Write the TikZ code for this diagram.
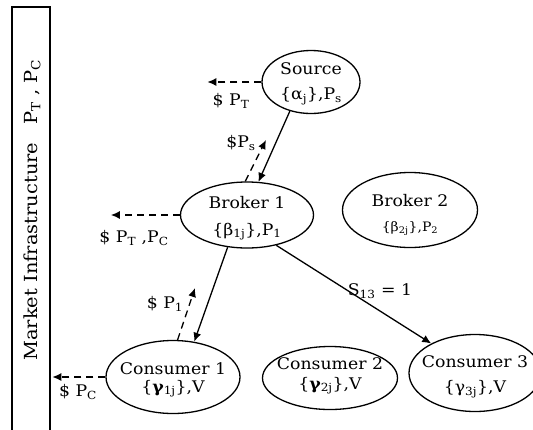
\documentclass[tikz,border=0pt]{standalone}
\usepackage{fontspec}
\setmainfont[FakeStretch=1.08]{DejaVu Serif}
\usetikzlibrary{shapes.geometric,arrows.meta}

\begin{document}
\begin{tikzpicture}[x=1pt,y=-1pt,
  agent/.style={draw,ellipse,line width=1.3pt,inner sep=0pt},
  agenttext/.style={align=center,font=\fontsize{16}{19}\selectfont,inner sep=0pt},
  flow/.style={line width=1.3pt,-{Latex[length=9pt,width=8pt]}},
  pay/.style={flow,dash pattern=on 7pt off 5pt},
  tag/.style={font=\fontsize{16}{19}\selectfont,inner sep=0pt}]

\useasboundingbox (0,0) rectangle (533,429);

% market infrastructure bar (open at the bottom)
\draw[line width=1.3pt] (12,440) -- (12,7) -- (50,7) -- (50,440);
\node[rotate=90,font=\fontsize{18}{21}\selectfont,inner sep=0pt] (mi) at (32,210)
  {Market Infrastructure\quad P\textsubscript{T} , P\textsubscript{C}};

% agents
\node[agent,minimum width=98pt,minimum height=63pt] (src) at (311,82) {};
\node[agenttext] (srct) at (311,84) {Source\\[6pt]\{α\textsubscript{j}\},P\textsubscript{s}};

\node[agent,minimum width=133pt,minimum height=66pt] (b1) at (247,215) {};
\node[agenttext] (b1t) at (247,218) {Broker 1\\[8pt]\{β\textsubscript{1j}\},P\textsubscript{1}};

\node[agent,minimum width=135pt,minimum height=75pt] (b2) at (410,210) {};
\node[agenttext] (b2t) at (410,215) {Broker 2\\[6pt]{\fontsize{13}{15}\selectfont\{β\textsubscript{2j}\},P\textsubscript{2}}};

\node[agent,minimum width=134pt,minimum height=73pt] (c1) at (173,377) {};
\node[agenttext] (c1t) at (173,380) {Consumer 1\\[-1pt]\{\textbf{γ}\textsubscript{1j}\},V};

\node[agent,minimum width=135pt,minimum height=63pt] (c2) at (330,378) {};
\node[agenttext] (c2t) at (330,376) {Consumer 2\\[1pt]\{\textbf{γ}\textsubscript{2j}\},V};

\node[agent,minimum width=132pt,minimum height=77pt] (c3) at (475,373) {};
\node[agenttext] (c3t) at (475,377) {Consumer 3\\[6pt]\{γ\textsubscript{3j}\},V};

% goods flow
\draw[flow] (src.234) -- (b1.71);
\draw[flow] (b1.239) -- (c1.59);
\draw[flow] (b1.-46) -- (c3.146);
\node[tag] (s13) at (380,291) {S\textsubscript{13} = 1};

% payments
\coordinate (pT) at ([xshift=-54pt]src.west);
\draw[pay] (src.west) -- (pT);
\node[tag] (lT) at (231,101) {\$ P\textsubscript{T}};

\coordinate (pS) at (266,140);
\draw[pay] (b1.93) -- (pS);
\node[tag] (lS) at (241,143) {\$P\textsubscript{s}};

\coordinate (pTC) at ([xshift=-69pt]b1.west);
\draw[pay] (b1.west) -- (pTC);
\node[tag] (lTC) at (134,238) {\$ P\textsubscript{T} ,P\textsubscript{C}};

\coordinate (p1) at (195,288);
\draw[pay] (c1.83) -- (p1);
\node[tag] (l1) at (165,304) {\$ P\textsubscript{1}};

\coordinate (pC) at ([xshift=-53pt]c1.west);
\draw[pay] (c1.west) -- (pC);
\node[tag] (lC) at (78,392) {\$ P\textsubscript{C}};
\end{tikzpicture}
\end{document}
